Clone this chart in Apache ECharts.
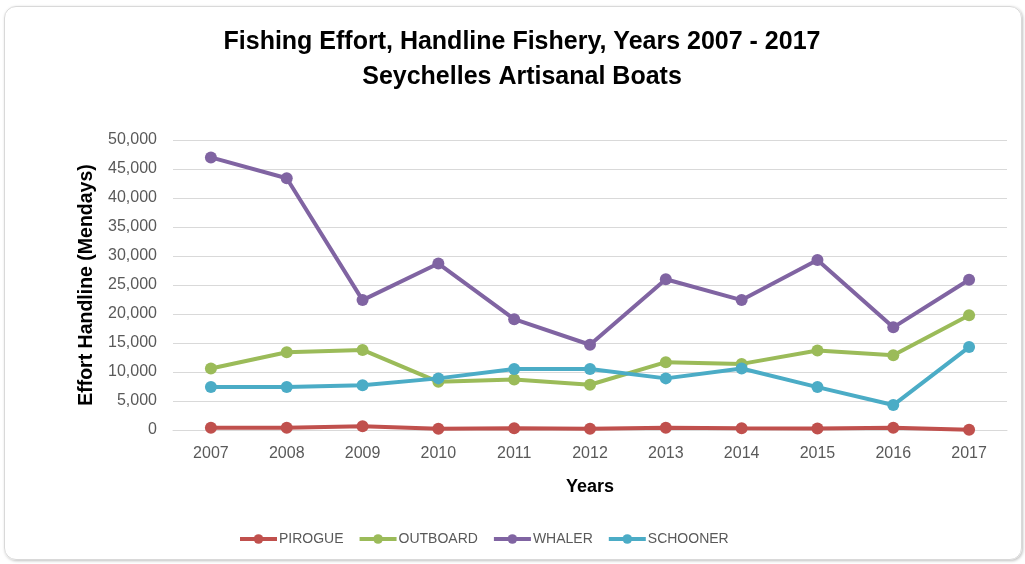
<!DOCTYPE html>
<html>
<head>
<meta charset="utf-8">
<script src="https://cdn.jsdelivr.net/npm/echarts@6/dist/echarts.min.js"></script>
<style>
html,body{margin:0;padding:0;background:#fff;}
#frame{position:absolute;left:4px;top:6px;width:1016px;height:552px;border:1px solid #d9d9d9;border-radius:12px;box-shadow:1px 1px 3px rgba(0,0,0,0.25);}
#chart{position:absolute;left:0;top:0;width:1025px;height:564px;}
</style>
</head>
<body>
<div id="frame"></div>
<div id="chart"></div>
<script>
const titleLines = ['Fishing Effort, Handline Fishery, Years 2007 - 2017', 'Seychelles Artisanal Boats'];
const years = ['2007','2008','2009','2010','2011','2012','2013','2014','2015','2016','2017'];
const pirogue  = [400, 400, 650, 200, 300, 200, 400, 300, 250, 400, 50];
const outboard = [10600, 13400, 13800, 8300, 8700, 7800, 11700, 11400, 13700, 12900, 19800];
const whaler   = [47000, 43400, 22400, 28700, 19100, 14700, 26000, 22400, 29300, 17700, 25900];
const schooner = [7400, 7400, 7700, 8900, 10500, 10500, 8900, 10600, 7400, 4300, 14300];
const seriesNames = ['PIROGUE','OUTBOARD','WHALER','SCHOONER'];
const seriesColors = ['#c0504d','#9bbb59','#8064a2','#4bacc6'];
const seriesData = [pirogue, outboard, whaler, schooner];

const chart = echarts.init(document.getElementById('chart'), null, {renderer:'canvas'});
const tickFont = 'Liberation Sans';
chart.setOption({
  backgroundColor: 'transparent',
  animation: false,
  graphic: titleLines.map((t, i) => ({
    type: 'text',
    x: 522, y: 42 + i * 35,
    style: {text: t, textAlign: 'center', textVerticalAlign: 'middle',
      font: 'bold 25px "Liberation Sans"', fill: '#000'}
  })),
  legend: {
    left: 233, top: 527,
    itemWidth: 37, itemHeight: 12, itemGap: 14,
    lineStyle: {width: 4},
    textStyle: {fontFamily: tickFont, fontSize: 14, color:'#595959', padding:[0,0,0,-3]},
    data: seriesNames
  },
  grid: {left: 173, right: 18, top: 140, bottom: 134},
  xAxis: {
    type: 'category', data: years, boundaryGap: true,
    name: 'Years', nameLocation: 'middle', nameGap: 48,
    nameTextStyle: {fontFamily:'Liberation Sans', fontWeight:'bold', fontSize:18, color:'#000'},
    axisLine: {show:true, lineStyle:{color:'#d9d9d9'}},
    axisTick: {show:false},
    axisLabel: {fontFamily: tickFont, fontSize:16, color:'#595959', margin:16}
  },
  yAxis: {
    type: 'value', min: 0, max: 50000, interval: 5000,
    name: 'Effort Handline (Mendays)', nameLocation: 'middle', nameGap: 76, nameRotate: 90,
    nameTextStyle: {fontFamily:'Liberation Sans', fontWeight:'bold', fontSize:19.5, color:'#000'},
    axisLine: {show:false}, axisTick: {show:false},
    splitLine: {lineStyle:{color:'#d9d9d9', width:1}},
    axisLabel: {fontFamily: tickFont, fontSize:16, color:'#595959', margin:16,
      formatter: v => v.toLocaleString('en-US')}
  },
  series: seriesData.map((d,i) => ({
    name: seriesNames[i], type: 'line', data: d,
    symbol: 'circle', symbolSize: 12,
    lineStyle: {width: 4, color: seriesColors[i]},
    itemStyle: {color: seriesColors[i]},
    z: 2 + (i===3?1:0)
  }))
});
</script>
</body>
</html>
